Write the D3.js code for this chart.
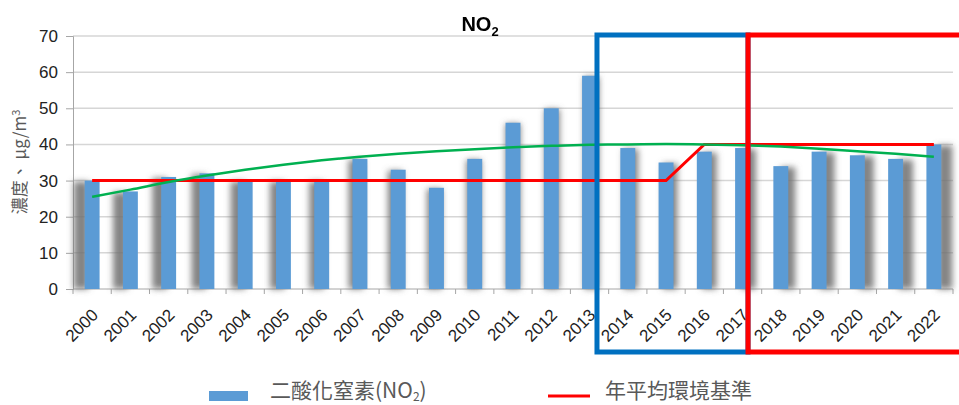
<!DOCTYPE html>
<html>
<head>
<meta charset="utf-8">
<script src="https://cdn.jsdelivr.net/npm/d3@7"></script>
<style>
  body { margin: 0; background: #fff; }
  svg { display: block; }
</style>
</head>
<body>
<svg id="chart"></svg>
<script>
// data
const years = ["2000", "2001", "2002", "2003", "2004", "2005", "2006", "2007", "2008", "2009", "2010", "2011",
  "2012", "2013", "2014", "2015", "2016", "2017", "2018", "2019", "2020", "2021", "2022"];
const no2 = [30, 27, 31, 32, 30, 30, 30, 36, 33, 28, 36, 46, 50, 59, 39, 35, 38, 39, 34, 38, 37, 36, 40];
const standard = [30, 30, 30, 30, 30, 30, 30, 30, 30, 30, 30, 30, 30, 30, 30, 30, 40, 40, 40, 40, 40, 40, 40];
const trend = [25.5, 27.5, 29.6, 31.4, 33.0, 34.4, 35.6, 36.6, 37.4, 38.1, 38.7, 39.2,
  39.6, 39.9, 40.0, 40.1, 40.0, 39.8, 39.4, 38.8, 38.1, 37.4, 36.6];
const yTicks = [0, 10, 20, 30, 40, 50, 60, 70];

const width = 959, height = 405;
const margin = { top: 36, right: 6, bottom: 116, left: 73 };

const svg = d3.select("#chart")
  .attr("width", width)
  .attr("height", height);

const x = d3.scaleBand()
  .domain(years)
  .range([margin.left, width - margin.right]);

const y = d3.scaleLinear()
  .domain([0, 70])
  .range([height - margin.bottom, margin.top]);

const barW = x.bandwidth() * 0.39;
const cx = d => x(d) + x.bandwidth() / 2;
const midX = (margin.left + width - margin.right) / 2;

// blur for the bar shadows
const defs = svg.append("defs");
defs.append("filter")
  .attr("id", "blur")
  .attr("x", "-100%").attr("width", "300%")
  .attr("y", "-20%").attr("height", "140%")
  .append("feGaussianBlur")
  .attr("stdDeviation", 3);

// gridlines
svg.append("g")
  .selectAll("line")
  .data(yTicks.slice(1))
  .join("line")
    .attr("x1", margin.left)
    .attr("x2", width - margin.right)
    .attr("y1", d => y(d))
    .attr("y2", d => y(d))
    .attr("stroke", "#d6d6d6")
    .attr("stroke-width", 1.5);

// y axis
const yAxis = svg.append("g")
  .attr("transform", `translate(${margin.left},0)`)
  .call(d3.axisLeft(y).tickValues(yTicks).tickSize(7).tickPadding(8));
yAxis.select(".domain").attr("stroke", "#a6a6a6");
yAxis.selectAll(".tick line").attr("stroke", "#a6a6a6");
yAxis.selectAll(".tick text")
  .attr("fill", "#222")
  .style("font-family", "'Liberation Sans', Arial, sans-serif")
  .style("font-size", "17px");

// x axis: ticks on band edges, labels at centres
const xAxis = svg.append("g");
xAxis.append("line")
  .attr("x1", margin.left)
  .attr("x2", width - margin.right)
  .attr("y1", y(0))
  .attr("y2", y(0))
  .attr("stroke", "#a6a6a6");
xAxis.selectAll(".xtick")
  .data(years.concat(["end"]))
  .join("line")
    .attr("class", "xtick")
    .attr("x1", d => d === "end" ? x.range()[1] : x(d))
    .attr("x2", d => d === "end" ? x.range()[1] : x(d))
    .attr("y1", y(0))
    .attr("y2", y(0) + 5)
    .attr("stroke", "#a6a6a6");
xAxis.selectAll(".xlabel")
  .data(years)
  .join("text")
    .attr("class", "xlabel")
    .attr("transform", d => `translate(${cx(d) + 7},${y(0) + 27}) rotate(-45)`)
    .attr("text-anchor", "end")
    .attr("fill", "#222")
    .style("font-family", "'Liberation Sans', Arial, sans-serif")
    .style("font-size", "17px")
    .text(d => d);

// bar shadows (perspective look: pushed away from the centre)
svg.append("g")
  .attr("filter", "url(#blur)")
  .selectAll("rect")
  .data(years)
  .join("rect")
    .attr("x", (d) => cx(d) - barW / 2 + (cx(d) - midX) * 0.026)
    .attr("y", (d, i) => y(no2[i]) + 1)
    .attr("width", barW)
    .attr("height", (d, i) => y(0) - y(no2[i]) - 1)
    .attr("fill", "#6f6f6f")
    .attr("opacity", 0.85);

// bars
svg.append("g")
  .selectAll("rect")
  .data(years)
  .join("rect")
    .attr("x", d => cx(d) - barW / 2)
    .attr("y", (d, i) => y(no2[i]))
    .attr("width", barW)
    .attr("height", (d, i) => y(0) - y(no2[i]))
    .attr("fill", "#5b9bd5");

// annual environmental standard
const line = d3.line()
  .x((d, i) => cx(years[i]))
  .y(d => y(d));

svg.append("path")
  .datum(standard)
  .attr("d", line)
  .attr("fill", "none")
  .attr("stroke", "#ff0000")
  .attr("stroke-width", 3);

// trend curve
svg.append("path")
  .datum(trend)
  .attr("d", line.curve(d3.curveMonotoneX))
  .attr("fill", "none")
  .attr("stroke", "#00b050")
  .attr("stroke-width", 2.5);

// highlight boxes
const boxTop = y(70) - 1;
const boxBottom = y(0) + 63;
const blueLeft = cx("2013") + barW / 2;
const redLeft = cx("2017") + barW / 2 - 2;

svg.append("rect")
  .attr("x", blueLeft)
  .attr("y", boxTop)
  .attr("width", redLeft - blueLeft)
  .attr("height", boxBottom - boxTop)
  .attr("fill", "none")
  .attr("stroke", "#0070c0")
  .attr("stroke-width", 5);

svg.append("rect")
  .attr("x", redLeft)
  .attr("y", boxTop)
  .attr("width", width + 20 - redLeft)
  .attr("height", boxBottom - boxTop)
  .attr("fill", "none")
  .attr("stroke", "#ff0000")
  .attr("stroke-width", 5);

// title
const title = svg.append("text")
  .attr("x", 480)
  .attr("y", 31)
  .attr("text-anchor", "middle")
  .attr("font-weight", "bold")
  .attr("fill", "#000")
  .style("font-family", "'Liberation Sans', Arial, sans-serif")
  .style("font-size", "20px");
title.append("tspan").text("NO");
title.append("tspan").attr("dy", 5).style("font-size", "13px").text("2");

// y axis title
const yTitle = svg.append("text")
  .attr("transform", `translate(26,162) rotate(-90)`)
  .attr("text-anchor", "middle")
  .attr("fill", "#595959")
  .style("font-family", "'Noto Sans CJK TC', sans-serif")
  .style("font-size", "17px");
yTitle.append("tspan").text("濃度、 μg/m");
yTitle.append("tspan").attr("dy", -6).style("font-size", "11px").text("3");

// legend
const legend = svg.append("g")
  .style("font-family", "'Noto Sans CJK TC', sans-serif")
  .style("font-size", "21px")
  .attr("fill", "#595959");

legend.append("rect")
  .attr("x", 209).attr("y", 391)
  .attr("width", 39).attr("height", 10)
  .attr("fill", "#5b9bd5");
const l1 = legend.append("text").attr("x", 270).attr("y", 398);
l1.append("tspan").text("二酸化窒素(NO");
l1.append("tspan").attr("dy", 3).style("font-size", "12px").text("2");
l1.append("tspan").attr("dy", -3).text(")");

legend.append("line")
  .attr("x1", 548).attr("x2", 590)
  .attr("y1", 396).attr("y2", 396)
  .attr("stroke", "#ff0000")
  .attr("stroke-width", 3);
legend.append("text")
  .attr("x", 605).attr("y", 398)
  .text("年平均環境基準");
</script>
</body>
</html>
